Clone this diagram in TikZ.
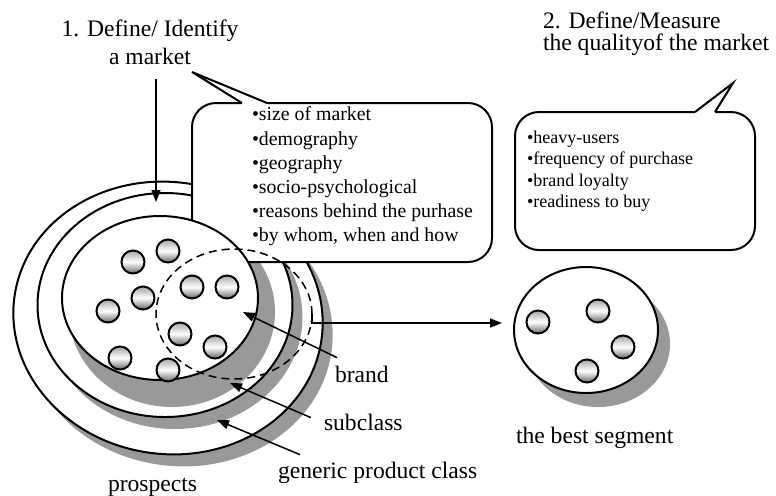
\documentclass[tikz,border=0pt]{standalone}
\usepackage{fontspec}
\setmainfont{Liberation Serif}
\usetikzlibrary{calc,arrows.meta,shapes.geometric}

\begin{document}
\begin{tikzpicture}[
  x=0.5pt, y=-0.5pt,
  every node/.style={inner sep=0pt, outer sep=0pt},
  big text/.style={font=\fontsize{11.8}{14}\selectfont},
  ring/.style={ellipse, draw, fill=white, line width=1pt},
  shadowfill/.style={ellipse, fill=black!40},
  ball/.style={circle, draw, line width=1pt, minimum size=11.5pt,
    top color=black!35, bottom color=black!60, middle color=white},
  bubble/.style={draw, fill=white, line width=1pt, rounded corners=12pt},
  pointer/.style={-{Triangle[length=6pt,width=4.5pt]}, line width=0.75pt}
]
\useasboundingbox (0,0) rectangle (776,495);

% rings of the market
\node[shadowfill, rotate=-8, minimum width=155pt, minimum height=136pt] at (178,330) {};
\node[ring, rotate=-8, minimum width=155pt, minimum height=136pt] (prospectring) at (168,318) {};
\node[shadowfill, minimum width=127.5pt, minimum height=112pt] at (175,317) {};
\node[ring, minimum width=127.5pt, minimum height=112pt] (genericring) at (165,305) {};
\node[shadowfill, minimum width=103pt, minimum height=95pt] at (172,312) {};

% first callout
\node[bubble, minimum width=150pt, minimum height=79.5pt] (mktbox) at (342,182.5) {};
\coordinate (mkttip) at (192,72);
\fill[white] ($(mktbox.north west)+(50,4)$) -- ($(mktbox.north west)+(50,0)$) -- (mkttip)
  -- ($(mktbox.north west)+(75,0)$) -- ($(mktbox.north west)+(75,4)$) -- cycle;
\draw[line width=1pt] ($(mktbox.north west)+(50,0)$) -- (mkttip) -- ($(mktbox.north west)+(75,0)$);

\node[ring, minimum width=98pt, minimum height=82pt] (subclassring) at (160,298) {};
\foreach \p [count=\i] in {(133,262),(168,251),(143,298),(108,311),(192,287),
    (227,287),(180,334),(215,347),(120,358),(168,370)}
  \node[ball] (dot\i) at \p {};
\node[ellipse, draw, dash pattern=on 4pt off 2.5pt, line width=0.75pt,
  minimum width=78pt, minimum height=65pt] (brandzone) at (234,314) {};

\node[anchor=north west, align=left, font=\fontsize{9.9}{12.1}\selectfont] (mktlist) at (252,107)
  {•size of market\\•demography\\•geography\\•socio-psychological\\•reasons behind the purhase\\•by whom, when and how};

% second callout
\node[bubble, minimum width=120pt, minimum height=69pt] (qualbox) at (635,181) {};
\coordinate (qualtip) at (733,83);
\fill[white] ($(qualbox.north west)+(180,4)$) -- ($(qualbox.north west)+(180,0)$) -- (qualtip)
  -- ($(qualbox.north west)+(200,0)$) -- ($(qualbox.north west)+(200,4)$) -- cycle;
\draw[line width=1pt] ($(qualbox.north west)+(180,0)$) -- (qualtip) -- ($(qualbox.north west)+(200,0)$);
\node[anchor=north west, align=left, font=\fontsize{9}{10.7}\selectfont] (quallist) at (527,131)
  {•heavy-users\\•frequency of purchase\\•brand loyalty\\•readiness to buy};

% the best segment
\node[shadowfill, minimum width=72pt, minimum height=63pt] at (598,344) {};
\node[ring, minimum width=72pt, minimum height=63pt] (bestseg) at (586,330) {};
\foreach \p [count=\i] in {(538,322),(598,311),(623,347),(587,371)}
  \node[ball] (seg\i) at \p {};

% titles and labels
\node[big text, align=center, anchor=north] (stepone) at (150,20) {1. Define/ Identify\\a market};
\node[big text, align=left, anchor=north west, font=\fontsize{11.8}{11}\selectfont] (steptwo) at (543,12)
  {2. Define/Measure\\the qualityof the market};
\node[big text, anchor=base west] (brand) at (335,382) {brand};
\node[big text, anchor=base west] (subclass) at (324,430) {subclass};
\node[big text, anchor=base west] (generic) at (278,478) {generic product class};
\node[big text, anchor=base west] (prospects) at (108,491) {prospects};
\node[big text, anchor=base west] (best) at (516,443) {the best segment};

% arrows
\coordinate (ringtop) at (156,202);
\coordinate (brandtip) at (243,312);
\coordinate (subclasstip) at (230,383);
\coordinate (generictip) at (217,420);
\coordinate (segin) at (502,323);
\draw[pointer] ($(stepone.south -| ringtop)+(0,14)$) -- (ringtop);
\draw[pointer] ($(brand.north west)+(2,-8)$) -- (brandtip);
\draw[pointer] ($(subclass.north west)+(-13,4)$) -- (subclasstip);
\draw[pointer] ($(generic.north west)+(22,-7)$) -- (generictip);
\draw[pointer] (brandzone.east) |- (segin);
\end{tikzpicture}
\end{document}
